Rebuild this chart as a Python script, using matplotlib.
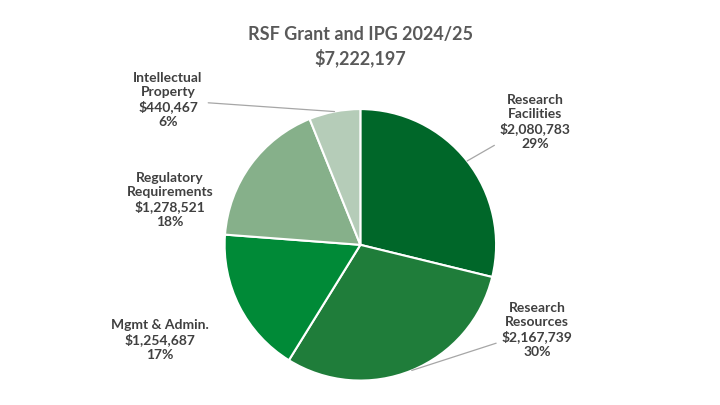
import numpy as np
import matplotlib.pyplot as plt

title = "RSF Grant and IPG 2024/25\n$7,222,197"
categories = ["Research\nFacilities", "Research\nResources", "Mgmt & Admin.",
              "Regulatory\nRequirements", "Intellectual\nProperty"]
values = [2080783, 2167739, 1254687, 1278521, 440467]
colors = ["#006729", "#1f7d3a", "#008a37", "#86b08a", "#b5ccb8"]
# label text positions in figure pixels (x, y from top), and whether a leader line is drawn
label_pos = [(535, 122, True), (537, 330, True), (160, 340, False),
             (170, 200, False), (168, 100, True)]

fig = plt.figure(figsize=(7.2, 4.05), dpi=100)
fig.patch.set_facecolor("white")
ax = fig.add_axes([0.31, 0.057, 0.381, 0.677])
wedges, _ = ax.pie(values, colors=colors, startangle=90, counterclock=False,
                   wedgeprops=dict(edgecolor="white", linewidth=1.5))
ax.set_aspect("equal")
ax.set_xlim(-1.01, 1.01)
ax.set_ylim(-1.01, 1.01)

fig.text(0.5, 0.885, title, ha="center", va="center", fontsize=13,
         fontweight="bold", color="#595959", family="Lato", linespacing=1.4)

total = sum(values)
for w, cat, v, (px, py, line) in zip(wedges, categories, values, label_pos):
    ang = np.deg2rad((w.theta1 + w.theta2) / 2)
    xy = (np.cos(ang), np.sin(ang))
    txt = f"{cat}\n${v:,}\n{round(100 * v / total)}%"
    ap = dict(arrowstyle="-", color="#a6a6a6", lw=0.9, shrinkA=2, shrinkB=0) if line else None
    ax.annotate(txt, xy=xy, xycoords="data",
                xytext=(px / 720, 1 - py / 405), textcoords="figure fraction",
                ha="center", va="center", fontsize=10, fontweight="bold",
                color="#404040", family="Lato", linespacing=1.2,
                arrowprops=ap)

fig.savefig("out.png", dpi=100, facecolor="white")
